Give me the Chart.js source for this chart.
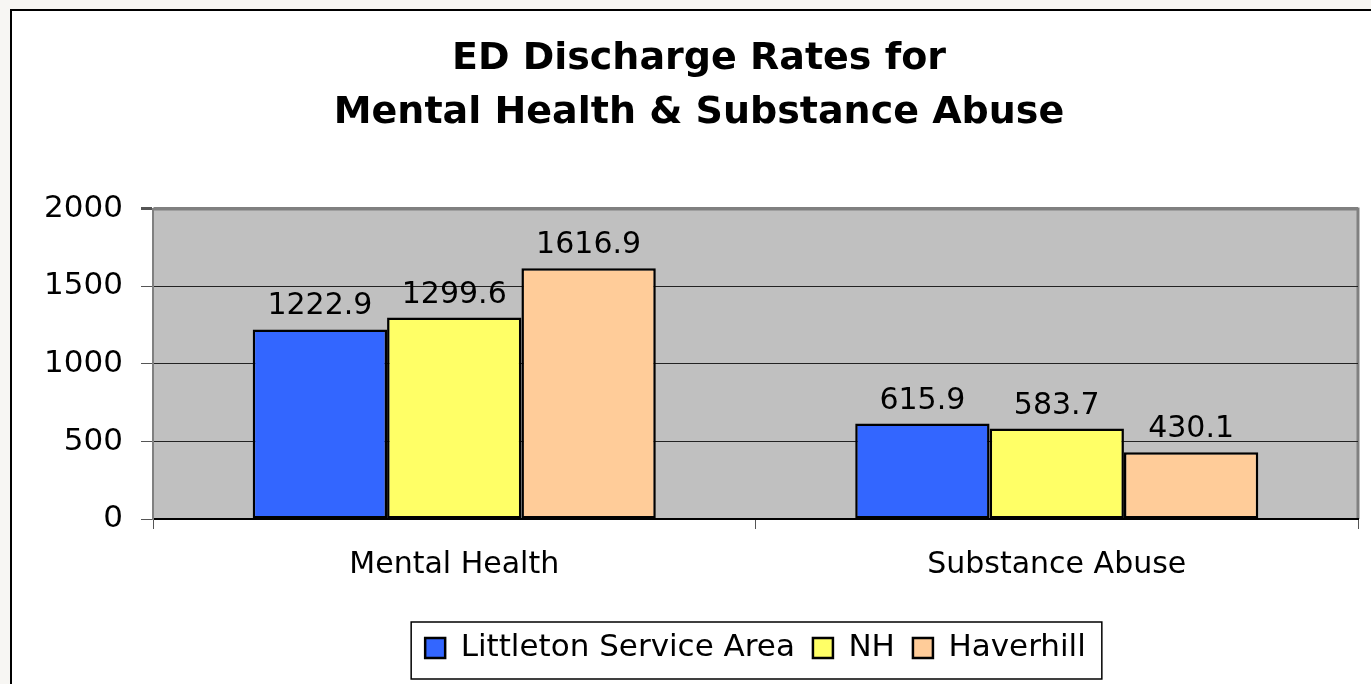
<!DOCTYPE html>
<html>
<head>
<meta charset="utf-8">
<script src="https://cdn.jsdelivr.net/npm/chart.js@4"></script>
<style>
  body { margin: 0; background: #f7f6f3; }
  #wrap { width: 1371px; height: 684px; }
</style>
</head>
<body>
<div id="wrap"><canvas id="myChart"></canvas></div>
<script>
// data
const categories = ['Mental Health', 'Substance Abuse'];
const seriesNames = ['Littleton Service Area', 'NH', 'Haverhill'];
const littleton = [1222.9, 615.9];
const nh = [1299.6, 583.7];
const haverhill = [1616.9, 430.1];
const yTicks = [0, 500, 1000, 1500, 2000];
const titleLines = ['ED Discharge Rates for', 'Mental Health & Substance Abuse'];

Chart.defaults.font.family = "'DejaVu Sans', sans-serif";
Chart.defaults.color = '#000';

// white sheet with a black frame, grey plot area
const framePlugin = {
    id: 'frame',
    beforeDraw(chart) {
        const {ctx, chartArea: a} = chart;
        ctx.save();
        ctx.fillStyle = '#fff';
        ctx.fillRect(10, 9, chart.width, chart.height);
        ctx.strokeStyle = '#000';
        ctx.lineWidth = 2;
        ctx.beginPath();
        ctx.moveTo(11, chart.height);
        ctx.lineTo(11, 10);
        ctx.lineTo(chart.width, 10);
        ctx.stroke();
        ctx.fillStyle = '#c0c0c0';
        ctx.fillRect(a.left, a.top, a.right - a.left, a.bottom - a.top);
        ctx.strokeStyle = '#808080';
        ctx.lineWidth = 3;
        ctx.beginPath();
        ctx.moveTo(a.left, a.top);
        ctx.lineTo(a.right, a.top);
        ctx.lineTo(a.right, a.bottom);
        ctx.stroke();
        ctx.restore();
    },
};

// values above bars
const valueLabels = {
    id: 'valueLabels',
    afterDatasetsDraw(chart) {
        const ctx = chart.ctx;
        ctx.save();
        ctx.font = "30px 'DejaVu Sans'";
        ctx.fillStyle = '#000';
        ctx.textAlign = 'center';
        ctx.textBaseline = 'alphabetic';
        chart.data.datasets.forEach((ds, i) => {
            chart.getDatasetMeta(i).data.forEach((bar, j) => {
                ctx.fillText(ds.data[j].toFixed(1), bar.x, bar.y - 15);
            });
        });
        ctx.restore();
    },
};

// box round the legend
const legendBox = {
    id: 'legendBox',
    afterDraw(chart) {
        const boxes = chart.legend.legendHitBoxes;
        if (!boxes || !boxes.length) return;
        const first = boxes[0];
        const last = boxes[boxes.length - 1];
        const mid = first.top + first.height / 2;
        const ctx = chart.ctx;
        ctx.save();
        ctx.strokeStyle = '#000';
        ctx.lineWidth = 1.5;
        ctx.strokeRect(first.left - 14, mid - 26, last.left + last.width - first.left + 30, 57);
        ctx.restore();
    },
};

const ctx = document.getElementById('myChart').getContext('2d');
const myChart = new Chart(ctx, {
    type: 'bar',
    data: {
        labels: categories,
        datasets: [
            { label: seriesNames[0], data: littleton, backgroundColor: '#3366ff' },
            { label: seriesNames[1], data: nh, backgroundColor: '#ffff66' },
            { label: seriesNames[2], data: haverhill, backgroundColor: '#ffcc99' },
        ].map(d => Object.assign(d, {
            borderColor: '#000',
            borderWidth: 2.5,
            borderSkipped: false,
            categoryPercentage: 0.669,
            barPercentage: 1,
        })),
    },
    options: {
        responsive: true,
        maintainAspectRatio: false,
        animation: false,
        layout: { padding: { left: 40, right: 13, top: 0, bottom: 10.5 } },
        plugins: {
            title: {
                display: true,
                text: titleLines,
                font: { size: 38, weight: 'bold', lineHeight: 1.42 },
                padding: { top: 32, bottom: 69 },
                color: '#000',
            },
            legend: {
                position: 'bottom',
                fullSize: false,
                labels: {
                    boxWidth: 20,
                    boxHeight: 20,
                    padding: 18,
                    font: { size: 31 },
                    color: '#000',
                },
            },
            tooltip: { enabled: false },
        },
        scales: {
            x: {
                afterFit(scale) { scale.height = 95.5; },
                border: { color: '#000', width: 2 },
                grid: {
                    drawOnChartArea: false,
                    drawTicks: true,
                    tickLength: 10,
                    tickColor: '#555',
                },
                ticks: { font: { size: 30 }, padding: 18, color: '#000' },
            },
            y: {
                min: yTicks[0],
                max: yTicks[yTicks.length - 1],
                afterFit(scale) { scale.width = 113; },
                afterBuildTicks(scale) { scale.ticks = yTicks.map(v => ({ value: v })); },
                border: { color: '#808080', width: 2 },
                grid: {
                    color: c => c.tick.value === 2000 ? '#808080' : '#222',
                    lineWidth: c => c.tick.value === 2000 ? 3 : 1,
                    tickLength: 12,
                    tickColor: '#555',
                },
                ticks: {
                    font: { size: 31 },
                    padding: 18,
                    color: '#000',
                    callback: v => String(v),
                },
            },
        },
    },
    plugins: [framePlugin, valueLabels, legendBox],
});
</script>
</body>
</html>
